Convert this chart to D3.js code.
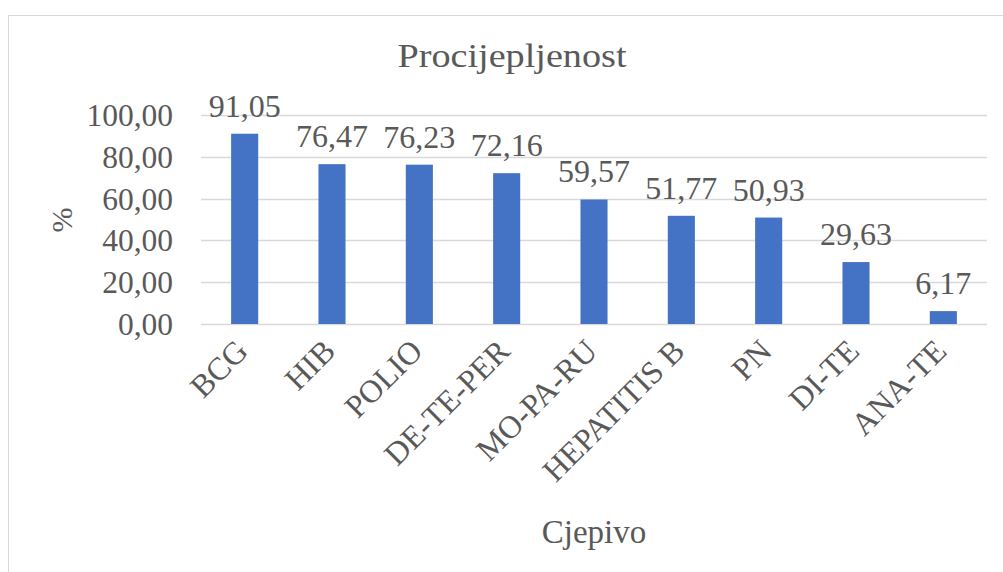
<!DOCTYPE html>
<html>
<head>
<meta charset="utf-8">
<script src="https://cdn.jsdelivr.net/npm/d3@7"></script>
<style>
  body { margin: 0; background: #fff; }
  text { font-family: "Liberation Serif", "Times New Roman", serif; fill: #595959; }
</style>
</head>
<body>
<svg id="chart" width="1003" height="572"></svg>
<script>
const categories = ["BCG", "HIB", "POLIO", "DE-TE-PER", "MO-PA-RU", "HEPATITIS B", "PN", "DI-TE", "ANA-TE"];
const values = [91.05, 76.47, 76.23, 72.16, 59.57, 51.77, 50.93, 29.63, 6.17];
const yTicks = [0, 20, 40, 60, 80, 100];

const fmt = (d) => d.toFixed(2).replace(".", ",");

const svg = d3.select("#chart");
const margin = {left: 201, right: 16, top: 115, bottom: 248};
const W = 1003, H = 572;

// chart frame (only left and top visible in the reference)
svg.append("path")
  .attr("d", `M8.5,${H} V15.5 H${W}`)
  .attr("fill", "none")
  .attr("stroke", "#d9d9d9");

const x = d3.scaleBand()
  .domain(categories)
  .range([margin.left, W - margin.right])
  .paddingInner(0.69)
  .paddingOuter(0.345);

const y = d3.scaleLinear()
  .domain([0, 100])
  .range([H - margin.bottom, margin.top]);

// gridlines
svg.append("g")
  .selectAll("line")
  .data(yTicks)
  .join("line")
  .attr("x1", margin.left)
  .attr("x2", W - margin.right)
  .attr("y1", (d) => Math.round(y(d)) + 0.5)
  .attr("y2", (d) => Math.round(y(d)) + 0.5)
  .attr("stroke", "#d9d9d9")
  .attr("stroke-width", 1.5);

// y tick labels
svg.append("g")
  .selectAll("text")
  .data(yTicks)
  .join("text")
  .attr("x", 173)
  .attr("y", (d) => y(d))
  .attr("dy", "0.35em")
  .attr("text-anchor", "end")
  .attr("font-size", 31.5)
  .text(fmt);

// bars
const data = categories.map((c, i) => ({c, v: values[i]}));
svg.append("g")
  .selectAll("rect")
  .data(data)
  .join("rect")
  .attr("x", (d) => x(d.c))
  .attr("width", x.bandwidth())
  .attr("y", (d) => y(d.v))
  .attr("height", (d) => y(0) - y(d.v))
  .attr("fill", "#4472c4");

// data labels
svg.append("g")
  .selectAll("text")
  .data(data)
  .join("text")
  .attr("x", (d) => x(d.c) + x.bandwidth() / 2)
  .attr("y", (d) => y(d.v) - 17)
  .attr("text-anchor", "middle")
  .attr("font-size", 32)
  .text((d) => fmt(d.v));

// category labels, rotated
svg.append("g")
  .selectAll("text")
  .data(categories)
  .join("text")
  .attr("transform", (d) => `translate(${x(d) + x.bandwidth() / 2 + 5},${y(0) + 29}) rotate(-45)`)
  .attr("text-anchor", "end")
  .attr("font-size", 32)
  .text((d) => d);

// title
svg.append("text")
  .attr("x", 512)
  .attr("y", 67)
  .attr("text-anchor", "middle")
  .attr("font-size", 33)
  .attr("textLength", 229)
  .attr("lengthAdjust", "spacingAndGlyphs")
  .text("Procijepljenost");

// axis titles
svg.append("text")
  .attr("transform", "translate(72,220) rotate(-90)")
  .attr("text-anchor", "middle")
  .attr("font-size", 30)
  .text("%");

svg.append("text")
  .attr("x", (margin.left + W - margin.right) / 2)
  .attr("y", 543)
  .attr("text-anchor", "middle")
  .attr("font-size", 33)
  .text("Cjepivo");
</script>
</body>
</html>
